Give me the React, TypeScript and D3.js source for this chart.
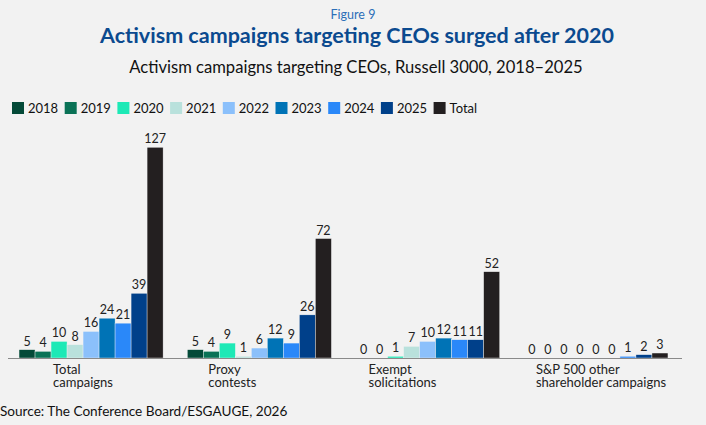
import React, { useEffect, useRef } from "react";
import * as d3 from "d3";

const categories = [
  ["Total", "campaigns"],
  ["Proxy", "contests"],
  ["Exempt", "solicitations"],
  ["S&P 500 other", "shareholder campaigns"],
];
const seriesNames = ["2018", "2019", "2020", "2021", "2022", "2023", "2024", "2025", "Total"];
const values2018 = [5, 5, 0, 0];
const values2019 = [4, 4, 0, 0];
const values2020 = [10, 9, 1, 0];
const values2021 = [8, 1, 7, 0];
const values2022 = [16, 6, 10, 0];
const values2023 = [24, 12, 12, 0];
const values2024 = [21, 9, 11, 1];
const values2025 = [39, 26, 11, 2];
const valuesTotal = [127, 72, 52, 3];
const seriesValues = [values2018, values2019, values2020, values2021, values2022, values2023, values2024, values2025, valuesTotal];
const colors = ["#044a38", "#0a7256", "#1de9b6", "#b9e1dc", "#8bc0fb", "#0073b6", "#2a88f9", "#00408a", "#231f20"];
const labelDx = [34, 21, 13, 12];

export default function App() {
  const ref = useRef<SVGSVGElement>(null);
  useEffect(() => {
    const svg = d3.select(ref.current);
    svg.selectAll("*").remove();
    const W = 706, H = 425;
    const font = "Lato, 'Open Sans', sans-serif";
    svg.append("rect").attr("width", W).attr("height", H).attr("fill", "#f2f2f2");

    svg.append("text").attr("x", 353).attr("y", 19).attr("text-anchor", "middle")
      .attr("font-size", 12.5).attr("fill", "#2c6fb8").attr("font-family", font).text("Figure 9");
    svg.append("text").attr("x", 357).attr("y", 43).attr("text-anchor", "middle")
      .attr("font-size", 21.5).attr("font-weight", "bold").attr("fill", "#0b4a8f").attr("font-family", font)
      .text("Activism campaigns targeting CEOs surged after 2020");
    svg.append("text").attr("x", 356).attr("y", 73).attr("text-anchor", "middle")
      .attr("font-size", 16.6).attr("fill", "#111").attr("font-family", font)
      .text("Activism campaigns targeting CEOs, Russell 3000, 2018–2025");

    // legend
    const lg = svg.append("g");
    seriesNames.forEach((n, i) => {
      const x = 12 + i * 52.7;
      lg.append("rect").attr("x", x).attr("y", 102).attr("width", 12).attr("height", 12).attr("fill", colors[i]);
      lg.append("text").attr("x", x + 16).attr("y", 113).attr("font-size", 13).attr("fill", "#111")
        .attr("font-family", font).text(n);
    });

    const x0 = d3.scaleBand<number>().domain(d3.range(categories.length)).range([7, 680])
      .paddingInner(0.144).paddingOuter(0.0715);
    const x1 = d3.scaleBand<number>().domain(d3.range(seriesNames.length)).range([0, x0.bandwidth()]);
    const y = d3.scaleLinear().domain([0, 127]).range([358, 147.3]);

    seriesValues.forEach((vals, s) => {
      vals.forEach((v, c) => {
        const bx = x0(c)! + x1(s)!;
        svg.append("rect").attr("x", bx).attr("y", y(v)).attr("width", x1.bandwidth())
          .attr("height", y(0) - y(v)).attr("fill", colors[s])
          .attr("stroke", "#f2f2f2").attr("stroke-width", 0.4);
        svg.append("text").attr("x", bx + x1.bandwidth() / 2).attr("y", y(v) - 4)
          .attr("text-anchor", "middle").attr("font-size", 12.5).attr("fill", "#222")
          .attr("font-family", font).text(String(v));
      });
    });

    svg.append("line").attr("x1", 8).attr("x2", 682).attr("y1", 358.5).attr("y2", 358.5)
      .attr("stroke", "#8a8a8a").attr("stroke-width", 1.2);

    categories.forEach((lines, c) => {
      const t = svg.append("text").attr("font-size", 13).attr("fill", "#222").attr("font-family", font);
      lines.forEach((ln, k) => {
        t.append("tspan").attr("x", x0(c)! + labelDx[c]).attr("y", 373.5 + k * 13.5).text(ln);
      });
    });

    svg.append("text").attr("x", 0).attr("y", 416).attr("font-size", 13.6).attr("fill", "#111")
      .attr("font-family", font).text("Source: The Conference Board/ESGAUGE, 2026");
  }, []);
  return (
    <svg ref={ref} width={706} height={425}
      style={{ position: "absolute", left: 0, top: 0, display: "block" }} />
  );
}
